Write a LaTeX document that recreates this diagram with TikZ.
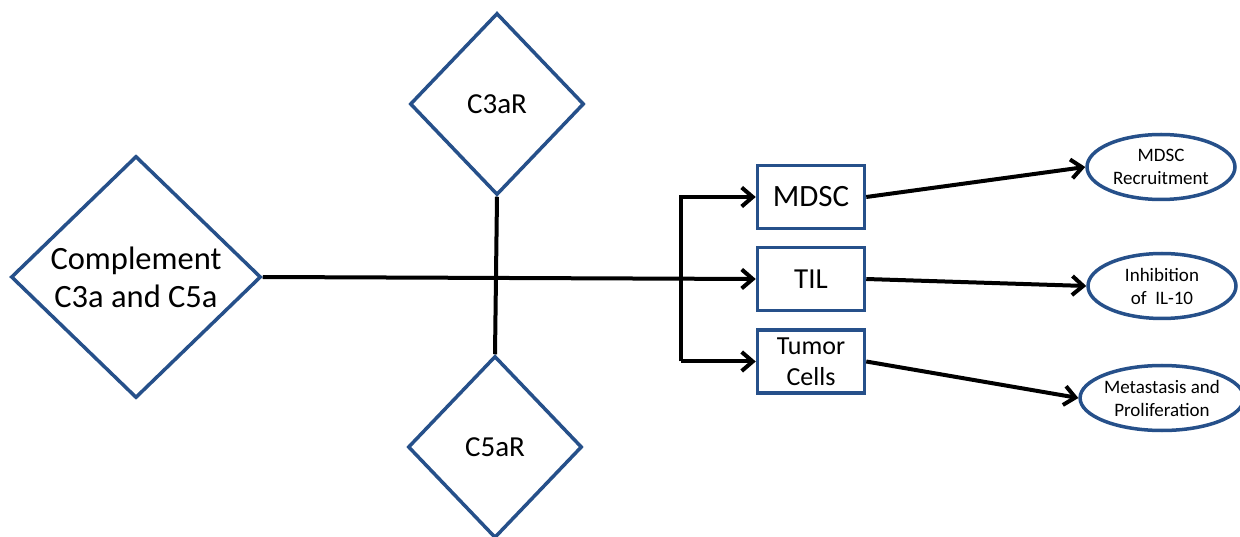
\documentclass[tikz,border=0pt]{standalone}
\usepackage{fontspec}
\setmainfont{Carlito}
\usetikzlibrary{shapes.geometric,arrows.meta}
\definecolor{bord}{RGB}{38,80,138}
\tikzset{
  x=1pt,y=-1pt,
  dia/.style={diamond,draw=bord,line width=3.5pt,fill=white,inner sep=0pt,align=center},
  boxn/.style={rectangle,draw=bord,line width=3.5pt,fill=white,inner sep=0pt,align=center,minimum width=107pt,minimum height=63pt},
  ell/.style={ellipse,draw=bord,line width=3.5pt,fill=white,inner sep=0pt,align=center,minimum width=148pt,minimum height=65pt,font=\fontsize{19}{23}\selectfont},
  conn/.style={line width=4pt,black},
  arr/.style={conn,-{Straight Barb[length=11pt,width=19pt,line width=4pt]}},
}
\begin{document}
\begin{tikzpicture}
\useasboundingbox (0,0) rectangle (1240,537);
\node[dia,minimum width=250pt,minimum height=242pt,font=\fontsize{32.5}{38}\selectfont] (comp) at (136,277) {Complement\\C3a and C5a};
\node[dia,minimum width=174pt,minimum height=182pt,font=\fontsize{29}{32}\selectfont] (c3) at (497,104) {C3aR};
\node[dia,minimum width=174pt,minimum height=182pt,font=\fontsize{29}{32}\selectfont] (c5) at (495,447) {C5aR};
\node[boxn,font=\fontsize{31}{34}\selectfont] (mdsc) at (811,197) {MDSC};
\node[boxn,font=\fontsize{29}{32}\selectfont] (til) at (811,279) {TIL};
\node[boxn,font=\fontsize{26}{31}\selectfont] (tum) at (811,361.5) {Tumor\\Cells};
\node[ell] (e1) at (1161,167) {MDSC\\Recruitment};
\node[ell] (e2) at (1162,286) {Inhibition\\of\ \ IL-10};
\node[ell] (e3) at (1162,398) {Metastasis and\\Proliferation};
\coordinate (bx) at (681,0);
\draw[conn] (c3.south) -- (c5.north);
\draw[arr] (comp.east) -- (til.west);
\draw[arr] (bx|-tum.west) |- (mdsc.west);
\draw[arr] (bx|-tum.west) -- (tum.west);
\draw[arr] (mdsc.east) -- (e1.west);
\draw[arr] (til.east) -- (e2.west);
\draw[arr] (tum.east) -- (e3.west);
\end{tikzpicture}
\end{document}
